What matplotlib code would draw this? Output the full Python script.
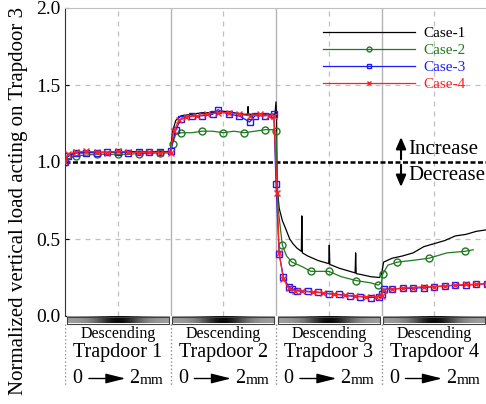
import numpy as np
import matplotlib
matplotlib.use("Agg")
import matplotlib.pyplot as plt

plt.rcParams['font.family'] = ['Liberation Serif', 'DejaVu Serif']

# data (x in trapdoor units, 1 unit = one trapdoor descending 0 -> 2 mm)
x_case1 = [0, 0.02, 0.05, 0.1, 0.2, 0.3, 0.4, 0.5, 0.6, 0.7, 0.8, 0.9, 0.99,
           1.0, 1.02, 1.05, 1.1, 1.2, 1.3, 1.4, 1.5, 1.6, 1.7, 1.73, 1.735, 1.74, 1.8, 1.9, 1.99,
           2.0, 2.005, 2.01, 2.03, 2.06, 2.09, 2.13, 2.16, 2.2, 2.24, 2.245, 2.25, 2.3, 2.4,
           2.5, 2.505, 2.51, 2.6, 2.7, 2.75, 2.755, 2.76, 2.8, 2.9, 2.98,
           3.0, 3.02, 3.1, 3.2, 3.3, 3.4, 3.5, 3.6, 3.7, 3.8, 3.9, 4.0]
y_case1 = [1.0, 1.03, 1.05, 1.06, 1.06, 1.065, 1.06, 1.065, 1.07, 1.065, 1.065, 1.07, 1.065,
           1.06, 1.2, 1.27, 1.30, 1.31, 1.32, 1.32, 1.33, 1.32, 1.31, 1.31, 1.36, 1.31, 1.31, 1.31, 1.31,
           1.39, 1.30, 0.85, 0.70, 0.62, 0.57, 0.50, 0.47, 0.44, 0.42, 0.65, 0.41, 0.39, 0.36,
           0.34, 0.46, 0.335, 0.31, 0.29, 0.28, 0.41, 0.275, 0.27, 0.255, 0.25,
           0.27, 0.35, 0.375, 0.39, 0.41, 0.45, 0.47, 0.49, 0.52, 0.53, 0.55, 0.56]

x_case2 = [0, 0.03, 0.1, 0.2, 0.3, 0.4, 0.5, 0.6, 0.7, 0.8, 0.9, 1.0,
           1.02, 1.05, 1.1, 1.2, 1.3, 1.4, 1.5, 1.6, 1.7, 1.8, 1.9, 1.98,
           2.0, 2.02, 2.06, 2.1, 2.15, 2.25, 2.33, 2.45, 2.5, 2.62, 2.76, 2.9, 2.97,
           3.0, 3.01, 3.06, 3.15, 3.28, 3.45, 3.62, 3.79, 3.87]
y_case2 = [1.0, 1.02, 1.04, 1.045, 1.05, 1.05, 1.05, 1.05, 1.055, 1.055, 1.06, 1.06,
           1.12, 1.18, 1.19, 1.19, 1.2, 1.2, 1.19, 1.2, 1.19, 1.2, 1.21, 1.21,
           1.2, 0.7, 0.46, 0.39, 0.35, 0.32, 0.29, 0.29, 0.29, 0.255, 0.23, 0.215, 0.2,
           0.22, 0.27, 0.33, 0.35, 0.36, 0.375, 0.41, 0.42, 0.43]

x_case3 = [0, 0.03, 0.1, 0.2, 0.3, 0.4, 0.5, 0.6, 0.7, 0.8, 0.9, 1.0,
           1.05, 1.1, 1.2, 1.3, 1.4, 1.45, 1.55, 1.65, 1.75, 1.8, 1.9, 1.98,
           2.0, 2.03, 2.07, 2.12, 2.15, 2.2, 2.3, 2.4, 2.5, 2.6, 2.7, 2.8, 2.9, 2.98,
           3.0, 3.02, 3.1, 3.2, 3.3, 3.4, 3.5, 3.6, 3.7, 3.8, 3.9, 4.0]
y_case3 = [1.0, 1.04, 1.06, 1.06, 1.06, 1.065, 1.065, 1.06, 1.065, 1.065, 1.065, 1.07,
           1.21, 1.28, 1.30, 1.30, 1.31, 1.34, 1.31, 1.30, 1.26, 1.30, 1.30, 1.31,
           0.86, 0.40, 0.255, 0.19, 0.175, 0.165, 0.16, 0.155, 0.145, 0.14, 0.13, 0.125, 0.12, 0.125,
           0.14, 0.175, 0.175, 0.18, 0.18, 0.185, 0.19, 0.195, 0.2, 0.2, 0.205, 0.21]

x_case4 = [0, 0.03, 0.1, 0.2, 0.3, 0.4, 0.5, 0.6, 0.7, 0.8, 0.9, 1.0,
           1.03, 1.08, 1.15, 1.25, 1.35, 1.45, 1.55, 1.65, 1.75, 1.85, 1.93, 1.98,
           2.01, 2.03, 2.07, 2.12, 2.18, 2.25, 2.35, 2.45, 2.55, 2.65, 2.75, 2.85, 2.95,
           3.0, 3.02, 3.1, 3.2, 3.3, 3.4, 3.5, 3.6, 3.7, 3.8, 3.9, 4.0]
y_case4 = [1.0, 1.05, 1.065, 1.07, 1.065, 1.06, 1.07, 1.065, 1.06, 1.065, 1.06, 1.06,
           1.2, 1.27, 1.29, 1.30, 1.31, 1.32, 1.32, 1.31, 1.30, 1.31, 1.30, 1.30,
           0.8, 0.41, 0.24, 0.18, 0.165, 0.16, 0.155, 0.15, 0.14, 0.135, 0.13, 0.125, 0.125,
           0.13, 0.17, 0.175, 0.18, 0.185, 0.19, 0.19, 0.195, 0.2, 0.205, 0.205, 0.21]

trapdoors = ['Trapdoor 1', 'Trapdoor 2', 'Trapdoor 3', 'Trapdoor 4']

fig = plt.figure(figsize=(4.86, 4.04), dpi=100)
ax = fig.add_axes([65/486, 88/404, 422/486, 308/404])

# grid
for xv in [0.5, 1.5, 2.5, 3.5]:
    ax.axvline(xv, color='0.75', ls=(0, (4, 4)), lw=0.9, zorder=0)
for yv in [0.5, 1.5]:
    ax.axhline(yv, color='0.75', ls=(0, (4, 4)), lw=0.9, zorder=0)
for xv in [1, 2, 3]:
    ax.axvline(xv, color='0.7', lw=1.0, zorder=0)
ax.axhline(1.0, color='black', ls=(0, (2, 1)), lw=1.8, zorder=1)

ax.plot(x_case1, y_case1, color='black', lw=0.9, label='Case-1', zorder=3)
ax.plot(x_case2, y_case2, color='#1f7a1f', lw=0.9, marker='o', mfc='none', ms=5,
        markevery=2, label='Case-2', zorder=3)
ax.plot(x_case3, y_case3, color='#1a1aff', lw=0.9, marker='s', mfc='none', ms=5,
        label='Case-3', zorder=4)
ax.plot(x_case4, y_case4, color='#ff2020', lw=0.9, marker='x', ms=5,
        label='Case-4', zorder=5)

ax.set_xlim(0, 4)
ax.set_ylim(0, 2)
ax.set_yticks([0, 0.5, 1.0, 1.5, 2.0])
ax.set_yticklabels(['0.0', '0.5', '1.0', '1.5', '2.0'], fontsize=14)
ax.set_xticks([])
ax.tick_params(axis='y', direction='in', length=3, pad=3)
ax.spines['right'].set_visible(False)
ax.spines['bottom'].set_visible(False)
ax.spines['top'].set_color('0.75')
ax.spines['left'].set_color('0.2')
ax.set_ylabel('Normalized vertical load acting on Trapdoor 3', fontsize=15)
ax.yaxis.set_label_coords(-0.088, 0.373)

leg = ax.legend(loc='upper left', bbox_to_anchor=(0.611, 0.94), frameon=False,
                fontsize=11, handlelength=6.0, handletextpad=0.6, labelspacing=0.22,
                borderpad=0, borderaxespad=0, numpoints=1, markerscale=0.7,
                labelcolor='linecolor')

# increase / decrease arrows
ax.annotate('', xy=(3.185, 1.18), xytext=(3.185, 1.0),
            arrowprops=dict(arrowstyle='-|>,head_length=0.7,head_width=0.3', color='black', lw=1.5))
ax.annotate('', xy=(3.185, 0.82), xytext=(3.185, 1.0),
            arrowprops=dict(arrowstyle='-|>,head_length=0.7,head_width=0.3', color='black', lw=1.5))
ax.text(3.25, 1.08, 'Increase', fontsize=15, va='center', ha='left')
ax.text(3.25, 0.915, 'Decrease', fontsize=15, va='center', ha='left')

# bottom panel with trapdoor descriptions
ax2 = fig.add_axes([65/486, 12/404, 422/486, 76/404])
ax2.set_xlim(0, 4)
ax2.set_ylim(76, 0)
ax2.axis('off')
t = np.linspace(0, 1, 200)
grad = 0.62 - 0.58 * np.exp(-((t - 0.5) / 0.22) ** 2)
grad = np.tile(grad, (6, 1))
for i, name in enumerate(trapdoors):
    ax2.imshow(grad, cmap='gray', vmin=0, vmax=1, aspect='auto',
               extent=(i + 0.015, i + 0.985, 7.5, 0.5))
    ax2.add_patch(plt.Rectangle((i + 0.015, 0.5), 0.97, 7, fill=False, ec='0.25', lw=0.8))
    ax2.text(i + 0.5, 18, 'Descending', fontsize=11.5, ha='center', va='center')
    ax2.text(i + 0.5, 36.5, name, fontsize=14.5, ha='center', va='center')
    ax2.text(i + 0.07, 62.5, '0', fontsize=14.5, ha='left', va='center')
    ax2.annotate('', xy=(i + 0.6, 62.5), xytext=(i + 0.2, 62.5),
                 arrowprops=dict(arrowstyle='-|>,head_length=1.2,head_width=0.3',
                                 color='black', lw=1.0))
    ax2.text(i + 0.61, 62.5, '2', fontsize=14.5, ha='left', va='center')
    ax2.text(i + 0.71, 64, 'mm', fontsize=11, ha='left', va='center')
for i in range(5):
    ax2.plot([i, i], [7.5, 69], color='0.55', ls=':', lw=1.0)

fig.savefig('out.png', dpi=100)
